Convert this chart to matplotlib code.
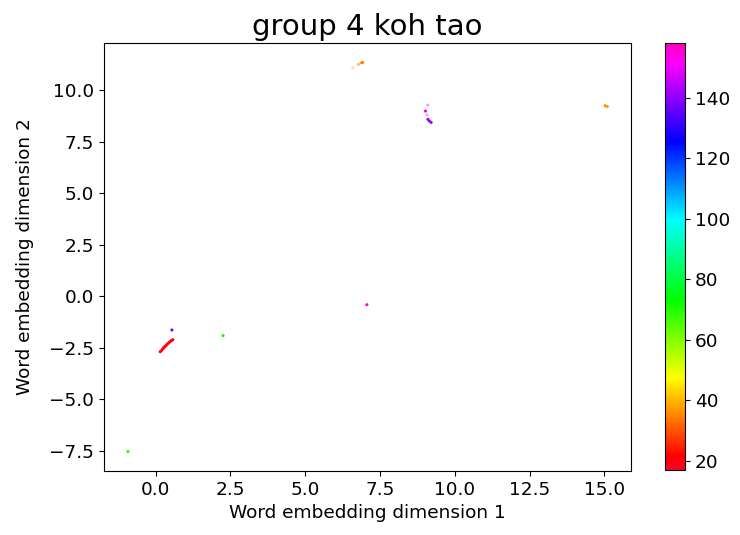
import numpy as np
import matplotlib
matplotlib.use("Agg")
import matplotlib.pyplot as plt
from matplotlib.ticker import MultipleLocator

# word embedding points (dim 1, dim 2) and their colour value
dim1 = [0.15, 0.19, 0.23, 0.26, 0.30, 0.33, 0.37, 0.41, 0.45, 0.49, 0.53, 0.57, 0.28,
        0.54, 2.25, -0.93,
        6.59, 6.78, 6.88, 6.92,
        15.03, 15.10,
        7.06,
        9.10, 9.02, 9.07, 9.10, 9.15, 9.21]
dim2 = [-2.70, -2.65, -2.58, -2.52, -2.47, -2.42, -2.36, -2.30, -2.25, -2.20, -2.16, -2.12, -2.45,
        -1.65, -1.92, -7.55,
        11.08, 11.25, 11.32, 11.34,
        9.24, 9.20,
        -0.42,
        9.27, 8.98, 8.79, 8.58, 8.50, 8.43]
values = [18, 19, 20, 17, 21, 19, 18, 20, 22, 19, 21, 20, 24,
          138, 72, 70,
          38, 36, 37, 35,
          36, 37,
          155,
          158, 155, 152, 142, 140, 143]
alphas = [1, 1, 1, 1, 1, 1, 1, 1, 1, 1, 1, 1, 0.5,
          1, 1, 1,
          0.4, 0.6, 1, 1,
          1, 1,
          1,
          0.4, 1, 0.4, 1, 1, 1]

fig = plt.figure(figsize=(7.4, 5.35), dpi=100)
ax = fig.add_axes([0.1405, 0.1196, 0.7125, 0.8])
cax = fig.add_axes([0.8986, 0.1215, 0.027, 0.798])

sc = ax.scatter(dim1, dim2, c=values, cmap="gist_rainbow", s=5, vmin=17, vmax=158,
                edgecolors="none")
sc.set_alpha(alphas)
ax.xaxis.set_major_locator(MultipleLocator(2.5))
ax.set_title("group 4 koh tao", fontsize=21)
ax.set_xlabel("Word embedding dimension 1", fontsize=13.3)
ax.set_ylabel("Word embedding dimension 2", fontsize=13.3, labelpad=11)
ax.tick_params(labelsize=13.3)

cb = fig.colorbar(sc, cax=cax)
cb.solids.set_alpha(1)
cb.ax.tick_params(labelsize=13.3)

fig.savefig("out.png", dpi=100)
